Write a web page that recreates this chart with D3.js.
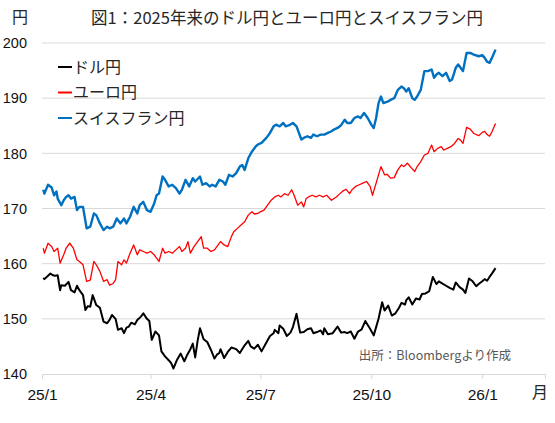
<!DOCTYPE html>
<html>
<head>
<meta charset="utf-8">
<script src="https://cdn.jsdelivr.net/npm/d3@7"></script>
<style>
  body { margin: 0; background: #fff; }
  svg { font-family: "Noto Sans CJK JP", "Noto Sans", sans-serif; }
</style>
</head>
<body>
<div id="chart"></div>
<script>
'use strict';

// [days since 2025-01-01, yen]
var usdJpy = [
  [1,157.4],[2,157.2],[5,157.8],[7,158.2],[9,157.9],[11,157.8],[13,157.9],[15,155.2],[16,156.1],[19,156.0],
  [22,156.7],[24,155.2],[27,154.8],[29,156.0],[31,155.2],[34,154.3],[36,151.6],[38,152.3],[40,152.2],[42,154.3],
  [45,152.5],[48,152.0],[51,149.5],[54,149.2],[56,149.8],[58,150.7],[61,150.0],[63,148.0],[66,148.3],[68,147.4],
  [70,148.4],[72,148.6],[74,149.3],[77,149.0],[79,149.8],[82,150.4],[84,151.0],[87,150.0],[89,149.6],[91,146.2],
  [94,147.7],[97,147.0],[99,144.1],[102,143.2],[105,142.5],[107,142.0],[109,141.0],[112,142.6],[115,143.7],[118,142.3],
  [120,143.3],[123,144.5],[125,145.5],[127,143.0],[129,146.0],[131,148.3],[134,146.3],[137,145.8],[140,144.4],[143,142.8],
  [145,143.5],[147,143.8],[148,144.5],[151,142.9],[154,144.0],[157,144.8],[161,144.5],[164,143.8],[168,145.2],[171,146.0],
  [173,145.0],[176,144.6],[179,145.3],[182,144.1],[185,145.3],[189,146.9],[192,147.4],[193,148.0],[196,147.4],[197,148.8],
  [200,148.2],[203,146.9],[206,147.5],[208,148.5],[211,150.9],[214,147.5],[217,147.6],[220,148.1],[223,148.3],[225,147.4],
  [228,147.6],[231,147.9],[233,147.2],[234,148.3],[237,147.2],[241,147.4],[245,148.6],[248,147.5],[251,147.6],[253,147.4],
  [256,147.7],[259,146.4],[262,147.7],[265,148.1],[268,149.6],[272,148.2],[275,147.0],[277,148.5],[279,150.0],[282,153.0],
  [284,151.5],[287,152.4],[290,150.6],[293,151.0],[296,152.0],[298,152.9],[301,152.6],[302,153.4],[304,153.9],[307,152.6],
  [310,153.7],[313,153.5],[315,154.5],[318,154.6],[321,155.0],[324,157.6],[327,156.3],[329,156.8],[332,156.4],[335,156.0],
  [338,155.6],[341,155.3],[343,156.6],[346,155.8],[349,155.3],[351,154.7],[354,157.3],[357,156.8],[360,155.9],[362,156.3],
  [365,156.8],[367,157.2],[369,156.9],[371,157.6],[373,158.2],[376,159.2]
];

var eurJpy = [
  [1,162.8],[2,161.9],[5,163.7],[8,163.1],[10,162.2],[13,162.8],[15,160.1],[18,161.6],[20,162.8],[23,163.7],
  [26,162.8],[29,160.7],[31,160.4],[34,159.8],[37,156.8],[40,157.0],[43,160.4],[45,159.8],[48,158.6],[51,156.8],
  [54,157.1],[56,156.1],[59,156.4],[61,157.1],[63,160.4],[66,159.8],[68,160.7],[70,160.1],[73,161.9],[76,163.4],
  [79,161.6],[81,162.5],[84,162.2],[87,161.9],[90,162.2],[93,161.6],[97,160.4],[100,162.8],[102,161.9],[105,162.2],
  [108,161.9],[111,162.5],[114,163.1],[116,162.2],[119,162.8],[121,164.0],[123,161.9],[126,163.1],[129,164.0],[132,164.9],
  [134,162.8],[137,162.8],[140,162.2],[143,162.5],[146,163.4],[148,164.0],[151,163.4],[154,163.1],[157,164.9],[159,165.8],
  [162,166.4],[165,167.0],[168,167.6],[171,168.8],[174,169.4],[176,169.0],[179,169.1],[181,169.4],[184,169.7],[187,170.6],
  [190,171.5],[193,172.1],[196,172.4],[198,172.1],[201,172.7],[204,172.4],[207,173.4],[209,172.4],[212,170.6],[215,171.2],
  [217,170.3],[219,171.8],[221,172.1],[224,172.4],[227,172.1],[230,172.4],[233,172.1],[236,172.4],[240,171.5],[244,172.1],
  [247,172.7],[249,173.1],[252,173.5],[255,172.7],[257,173.4],[260,174.0],[263,174.3],[266,174.6],[269,174.9],[272,174.0],
  [274,172.4],[277,174.6],[279,176.1],[281,177.6],[284,176.1],[286,176.2],[289,175.5],[292,175.6],[295,177.0],[298,177.9],
  [300,177.6],[303,178.2],[306,177.4],[309,176.7],[311,177.6],[314,178.5],[317,179.7],[320,180.0],[323,181.5],[325,180.3],
  [328,180.9],[331,181.2],[333,180.6],[336,180.9],[339,181.2],[342,181.8],[345,182.7],[347,182.4],[349,181.8],[352,184.7],
  [355,184.4],[358,183.6],[362,183.2],[365,183.8],[367,184.0],[369,183.4],[371,183.1],[373,183.9],[376,185.4]
];

var chfJpy = [
  [1,173.4],[2,172.7],[5,174.3],[8,173.8],[10,172.4],[12,173.1],[13,171.8],[16,170.6],[18,171.5],[20,172.1],
  [22,172.4],[24,171.8],[27,172.1],[29,169.7],[31,170.3],[34,170.3],[37,166.4],[40,166.7],[43,169.1],[45,168.8],
  [48,167.3],[51,166.1],[54,166.7],[56,166.4],[59,166.7],[62,168.2],[65,167.3],[68,168.2],[70,167.3],[73,168.5],
  [76,170.3],[79,169.1],[81,170.6],[84,171.2],[87,169.7],[90,169.4],[93,170.9],[95,172.4],[97,172.7],[100,175.8],
  [102,175.2],[105,174.0],[108,174.3],[111,173.7],[114,172.7],[116,173.4],[119,175.2],[122,174.0],[125,175.5],[127,174.9],
  [131,175.8],[133,174.3],[136,174.6],[139,174.0],[141,174.3],[144,174.0],[147,175.2],[150,174.9],[152,174.3],[155,176.1],
  [158,175.8],[161,176.4],[164,177.6],[166,177.9],[168,177.0],[171,179.1],[174,180.3],[177,181.2],[179,181.6],[182,181.9],
  [186,182.8],[189,183.7],[192,184.9],[194,185.2],[197,184.9],[200,185.5],[202,184.9],[205,185.1],[208,185.5],[211,184.9],
  [213,183.7],[215,182.5],[217,182.8],[220,183.1],[223,182.8],[225,183.4],[228,183.1],[231,183.4],[234,183.4],[237,183.7],
  [240,184.0],[242,184.3],[245,184.6],[248,185.1],[251,186.1],[253,185.5],[256,185.5],[259,186.4],[262,186.7],[264,186.4],
  [267,187.3],[270,186.4],[273,185.2],[275,184.6],[277,186.4],[279,189.1],[281,190.3],[283,189.1],[287,189.4],[289,189.7],
  [292,190.0],[295,191.5],[298,192.1],[300,191.8],[302,191.2],[304,191.8],[307,190.0],[309,189.7],[311,190.3],[314,191.5],
  [317,194.9],[320,194.9],[323,195.2],[325,193.7],[327,194.3],[329,194.6],[332,194.0],[335,194.6],[338,193.1],[340,193.4],
  [343,195.5],[345,196.1],[347,195.5],[349,194.9],[352,198.2],[355,198.2],[358,197.9],[362,197.6],[365,197.8],[367,197.3],
  [369,196.6],[371,196.4],[373,197.3],[376,198.8]
];

var yTicks = [140, 150, 160, 170, 180, 190, 200];
var xTicks = ['2025-01-01', '2025-04-01', '2025-07-01', '2025-10-01', '2026-01-01'];
var seriesNames = ['ドル円', 'ユーロ円', 'スイスフラン円'];

var width = 555, height = 423;
var start = new Date(2025, 0, 1);

var svg = d3.select('#chart')
    .append('svg')
    .attr('width', width)
    .attr('height', height);

var x = d3.scaleTime()
    .domain([start, new Date(2026, 1, 22)])
    .range([42, 545]);

var y = d3.scaleLinear()
    .domain([140, 200])
    .range([374, 43]);

function day(d) {
    return d3.timeDay.offset(start, d[0]);
}

// gridlines
svg.append('g')
    .selectAll('line')
    .data(yTicks.slice(1))
    .enter()
    .append('line')
    .attr('x1', x.range()[0])
    .attr('x2', x.range()[1])
    .attr('y1', function (d) { return y(d); })
    .attr('y2', function (d) { return y(d); })
    .attr('stroke', '#d9d9d9')
    .attr('stroke-width', 1);

// y labels
svg.append('g')
    .selectAll('text')
    .data(yTicks)
    .enter()
    .append('text')
    .attr('x', 27)
    .attr('y', function (d) { return y(d); })
    .attr('dy', '0.36em')
    .attr('text-anchor', 'end')
    .attr('font-size', 14.5)
    .attr('font-family', '"Liberation Sans", Arial, sans-serif')
    .attr('fill', '#111')
    .text(function (d) { return d; });

// x axis
var tickDates = xTicks.map(function (s) { return d3.timeParse('%Y-%m-%d')(s); });
var xAxis = d3.axisBottom(x)
    .tickValues(tickDates.concat([x.domain()[1]]))
    .tickSize(5)
    .tickPadding(10)
    .tickFormat(function (d, i) { return i < tickDates.length ? d3.timeFormat('%y/%-m')(d) : ''; });

var gx = svg.append('g')
    .attr('transform', 'translate(0,' + y(140) + ')')
    .call(xAxis);
gx.select('.domain').attr('stroke', '#d9d9d9');
gx.selectAll('.tick line').attr('stroke', '#d9d9d9');
gx.selectAll('.tick text')
    .attr('font-size', 15.5)
    .attr('font-family', '"Liberation Sans", Arial, sans-serif')
    .attr('fill', '#111');

// lines
var line = d3.line()
    .x(function (d) { return x(day(d)); })
    .y(function (d) { return y(d[1]); });

var series = [
    { name: seriesNames[0], data: usdJpy, color: '#000000', w: 2 },
    { name: seriesNames[1], data: eurJpy, color: '#ff0000', w: 1.3 },
    { name: seriesNames[2], data: chfJpy, color: '#0070c0', w: 2.4 }
];

svg.append('g')
    .selectAll('path')
    .data(series)
    .enter()
    .append('path')
    .attr('d', function (d) { return line(d.data); })
    .attr('fill', 'none')
    .attr('stroke', function (d) { return d.color; })
    .attr('stroke-width', function (d) { return d.w; })
    .attr('stroke-linejoin', 'round');

// legend
var legend = svg.append('g')
    .selectAll('g')
    .data(series)
    .enter()
    .append('g')
    .attr('transform', function (d, i) { return 'translate(58,' + (67 + i * 25.5) + ')'; });

legend.append('line')
    .attr('x1', 0)
    .attr('x2', 14)
    .attr('stroke', function (d) { return d.color; })
    .attr('stroke-width', 2);

legend.append('text')
    .attr('x', 15)
    .attr('dy', '0.36em')
    .attr('font-size', 16)
    .attr('fill', '#262626')
    .text(function (d) { return d.name; });

// titles and notes
svg.append('text')
    .attr('x', 287)
    .attr('y', 24)
    .attr('text-anchor', 'middle')
    .attr('font-size', 16.5)
    .attr('fill', '#262626')
    .text('図1：2025年来のドル円とユーロ円とスイスフラン円');

svg.append('text')
    .attr('x', 12)
    .attr('y', 23)
    .attr('font-size', 16)
    .attr('fill', '#262626')
    .text('円');

svg.append('text')
    .attr('x', 532)
    .attr('y', 398)
    .attr('font-size', 16)
    .attr('fill', '#262626')
    .text('月');

svg.append('text')
    .attr('x', 511)
    .attr('y', 360)
    .attr('text-anchor', 'end')
    .attr('font-size', 12.5)
    .attr('fill', '#595959')
    .text('出所：Bloombergより作成');
</script>
</body>
</html>
